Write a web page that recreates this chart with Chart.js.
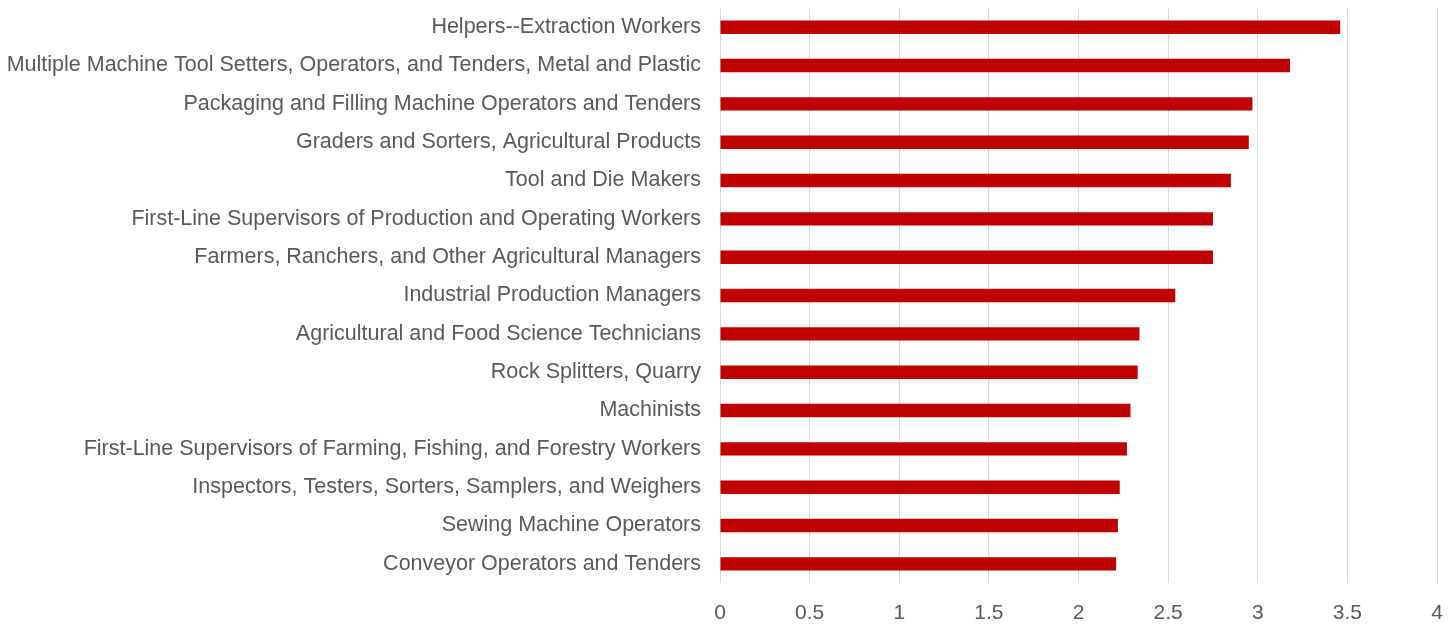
<!DOCTYPE html>
<html>
<head>
<meta charset="utf-8">
<script src="https://cdn.jsdelivr.net/npm/chart.js@4/dist/chart.umd.min.js"></script>
<style>
  html, body { margin: 0; padding: 0; background: #fff; }
  #wrap { width: 1453px; height: 625px; position: relative; }
</style>
</head>
<body>
<div id="wrap"><canvas id="chart"></canvas></div>
<script>
const occupations = [
    "Helpers--Extraction Workers",
    "Multiple Machine Tool Setters, Operators, and Tenders, Metal and Plastic",
    "Packaging and Filling Machine Operators and Tenders",
    "Graders and Sorters, Agricultural Products",
    "Tool and Die Makers",
    "First-Line Supervisors of Production and Operating Workers",
    "Farmers, Ranchers, and Other Agricultural Managers",
    "Industrial Production Managers",
    "Agricultural and Food Science Technicians",
    "Rock Splitters, Quarry",
    "Machinists",
    "First-Line Supervisors of Farming, Fishing, and Forestry Workers",
    "Inspectors, Testers, Sorters, Samplers, and Weighers",
    "Sewing Machine Operators",
    "Conveyor Operators and Tenders"
];
const scores = [3.46, 3.18, 2.97, 2.95, 2.85, 2.75, 2.75, 2.54, 2.34, 2.33, 2.29, 2.27, 2.23, 2.22, 2.21];
const xTicks = [0, 0.5, 1, 1.5, 2, 2.5, 3, 3.5, 4];

const fontFamily = "'Liberation Sans', Arial, sans-serif";

new Chart(document.getElementById("chart"), {
    type: "bar",
    data: {
        labels: occupations,
        datasets: [{
            data: scores,
            backgroundColor: "#c00000",
            borderWidth: 0,
            categoryPercentage: 1,
            barPercentage: 0.35
        }]
    },
    options: {
        indexAxis: "y",
        responsive: true,
        maintainAspectRatio: false,
        animation: false,
        layout: { padding: { top: 8, right: 16, bottom: 0, left: 0 } },
        plugins: {
            legend: { display: false },
            tooltip: { enabled: false }
        },
        scales: {
            x: {
                min: 0,
                max: 4,
                afterBuildTicks: (axis) => { axis.ticks = xTicks.map(v => ({ value: v })); },
                afterFit: (axis) => {
                    axis.height = 42;
                    axis.paddingLeft = 0;
                    axis.paddingRight = 0;
                },
                grid: { color: "#d9d9d9", lineWidth: 1, drawTicks: false },
                border: { display: false },
                ticks: {
                    color: "#595959",
                    font: { family: fontFamily, size: 21 },
                    padding: 18,
                    maxRotation: 0,
                    callback: (value) => String(value)
                }
            },
            y: {
                afterFit: (axis) => {
                    axis.width = 720;
                    axis.paddingTop = 0;
                    axis.paddingBottom = 0;
                },
                grid: { display: false, drawTicks: false },
                border: { display: false },
                ticks: {
                    color: "#595959",
                    font: { family: fontFamily, size: 21.5 },
                    padding: 19,
                    autoSkip: false
                }
            }
        }
    }
});
</script>
</body>
</html>
